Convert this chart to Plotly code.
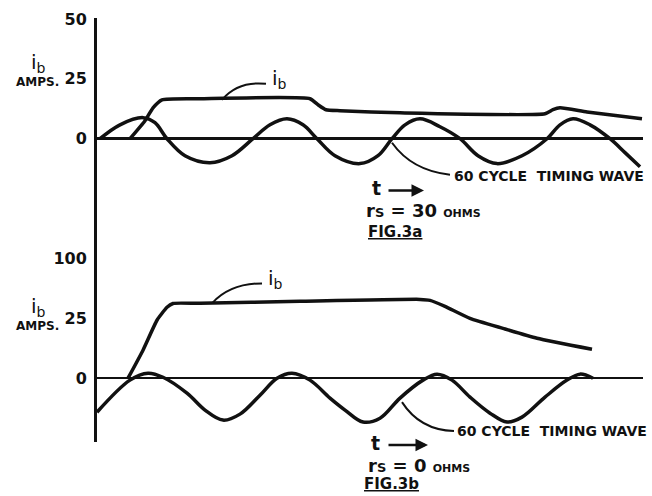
import plotly.graph_objects as go

W, H = 652, 496

# ---------------- data (time in arbitrary units, current in amps) -------------
# Fig 3a : r_s = 30 ohms
t_wave_a = [3, 23, 46, 58, 70, 88, 113, 135, 156, 173, 190, 206, 220, 238, 263, 281,
            295, 308, 323, 343, 363, 381, 400, 425, 450, 463, 476, 493, 513, 528, 543]
v_wave_a = [0, 5.8, 8.8, 6.7, 0, -7.1, -10.0, -7.1, 0, 5.8, 8.3, 5.8, 0, -7.1, -10.4, -7.1,
            0, 5.8, 8.3, 5.0, 0, -7.1, -10.4, -7.1, 0, 5.8, 8.3, 5.8, 0, -5.8, -11.7]
t_ib_a = [33, 48, 56, 65, 103, 213, 221, 229, 243, 303, 448, 456, 463, 490, 545]
v_ib_a = [0, 7.5, 12.9, 16.25, 16.7, 16.7, 14.2, 12.1, 11.7, 10.8, 10.4, 12.1, 12.9, 11.2, 8.3]

# Fig 3b : r_s = 0 ohms
t_wave_b = [0, 33, 51, 66, 90, 108, 126, 143, 163, 180, 195, 213, 233, 248, 266, 283,
            303, 326, 340, 355, 373, 393, 410, 425, 448, 470, 483, 496]
v_wave_b = [-14.2, -0.8, 2.1, 0.4, -6.25, -13.3, -17.5, -15.0, -7.1, 0, 2.1, -0.8, -8.3,
            -13.3, -18.3, -16.7, -8.3, -0.8, 1.7, -0.8, -7.9, -14.6, -18.3, -16.25, -7.9,
            -0.8, 1.7, 0]
t_ib_b = [31, 46, 60, 70, 76, 103, 203, 323, 333, 348, 373, 406, 440, 495]
v_ib_b = [0, 11.7, 24.2, 29.6, 31.2, 31.25, 32.1, 32.9, 32.5, 30.0, 25.0, 20.8, 16.7, 12.1]

tick_vals = [0, 25, 50]
tick_text_a = ["0", "25", "50"]
tick_text_b = ["0", "25", "100"]

# ---------------- layout helpers ----------------------------------------------
# positions below are measured on the reference picture; the capture maps the
# page with y_capture = 7 + 0.986 * y_page, so positions are converted back.
def px(x):
    return x / W

def py(y):
    yf = (y - 7) / 0.986
    return (H - yf) / H

X0, X1 = 97, 643
FONT = "DejaVu Sans"
INK = "#111111"

fig = go.Figure()
line_style = dict(color=INK, width=3.5, shape="spline", smoothing=1.0)
fig.add_trace(go.Scatter(x=t_wave_a, y=v_wave_a, mode="lines", line=line_style,
                         xaxis="x", yaxis="y", hoverinfo="skip"))
fig.add_trace(go.Scatter(x=t_ib_a, y=v_ib_a, mode="lines",
                         line=dict(color=INK, width=3.5, shape="spline", smoothing=0.5),
                         xaxis="x", yaxis="y", hoverinfo="skip"))
fig.add_trace(go.Scatter(x=t_wave_b, y=v_wave_b, mode="lines", line=line_style,
                         xaxis="x2", yaxis="y2", hoverinfo="skip"))
fig.add_trace(go.Scatter(x=t_ib_b, y=v_ib_b, mode="lines",
                         line=dict(color=INK, width=3.5, shape="spline", smoothing=0.5),
                         xaxis="x2", yaxis="y2", hoverinfo="skip"))

xdom = [px(X0), px(X1)]
xrange_ = [0, X1 - X0]
xax = dict(domain=xdom, range=xrange_, visible=False, fixedrange=True)
tickfont = dict(family=FONT, size=16, color=INK, weight="bold")
yax_common = dict(showline=True, linecolor=INK, linewidth=3, showgrid=False,
                  zeroline=True, zerolinecolor=INK, zerolinewidth=2.5,
                  ticks="", tickvals=tick_vals, tickfont=tickfont, fixedrange=True,
                  ticklabelstandoff=4)

fig.update_layout(
    width=W, height=H,
    margin=dict(l=0, r=0, t=0, b=0),
    paper_bgcolor="white", plot_bgcolor="white",
    showlegend=False,
    xaxis=dict(xax, anchor="y"),
    xaxis2=dict(xax, anchor="y2"),
    yaxis=dict(yax_common, domain=[py(248), py(17)], range=[(138 - 248) / 2.4, (138 - 17) / 2.4],
               ticktext=tick_text_a, anchor="x"),
    yaxis2=dict(yax_common, domain=[py(442), py(248)], range=[(378 - 442) / 2.4, (378 - 248) / 2.4],
                ticktext=tick_text_b, anchor="x2"),
)

ann = []
def text(x, y, s, size, xanchor="center", weight="bold"):
    ann.append(dict(x=px(x), y=py(y), xref="paper", yref="paper", text=s, showarrow=False,
                    xanchor=xanchor, yanchor="middle",
                    font=dict(family=FONT, size=size, color=INK, weight=weight)))

def arrow(x0, x1, y):
    ann.append(dict(x=px(x1), y=py(y), ax=-(x1 - x0), ay=0, xref="paper", yref="paper",
                    axref="pixel", ayref="pixel", text="", showarrow=True,
                    arrowhead=2, arrowsize=1, arrowwidth=2.5, arrowcolor=INK))

# y labels
for (yl, ya) in [(62, 81), (307, 326)]:
    text(38, yl, "i<sub>b</sub>", 20, weight="normal")
    text(37, ya, "AMPS.", 12)

RS = "r<span style='font-size:13px'>S</span>"
# Fig 3a labels
text(279, 78, "i<sub>b</sub>", 20, weight="normal")
text(452, 175, "60 CYCLE  TIMING WAVE", 14, xanchor="left")
text(376, 187, "t", 19)
arrow(387, 424, 190)
text(364, 210, RS + " = 30 <span style='font-size:11px'>OHMS</span>", 18, xanchor="left")
text(366, 231, "<u>FIG.3a</u>", 15, xanchor="left")

# Fig 3b labels
text(275, 279, "i<sub>b</sub>", 20, weight="normal")
text(455, 431, "60 CYCLE  TIMING WAVE", 14, xanchor="left")
text(375, 443, "t", 19)
arrow(387, 428, 445)
text(366, 465, RS + " = 0 <span style='font-size:11px'>OHMS</span>", 18, xanchor="left")
text(362, 484, "<u>FIG.3b</u>", 15, xanchor="left")

fig.update_layout(annotations=ann)

# curved leader lines (paper coordinates)
def leader(p0, c, p1):
    path = "M {} {} Q {} {} {} {}".format(px(p0[0]), py(p0[1]), px(c[0]), py(c[1]),
                                            px(p1[0]), py(p1[1]))
    return dict(type="path", path=path, xref="paper", yref="paper",
                line=dict(color=INK, width=2))

fig.update_layout(shapes=[
    leader((266, 83), (238, 80), (222, 99)),
    leader((392, 142), (412, 170), (450, 174)),
    leader((262, 283), (230, 283), (212, 303)),
    leader((402, 402), (420, 430), (454, 431)),
])

fig.write_html(
    "out.html",
    config={"displayModeBar": False, "staticPlot": True},
    post_script=(
        "document.documentElement.style.margin='0';"
        "document.body.style.margin='0';document.body.style.padding='0';"
        "document.body.style.overflow='hidden';"
        "var gd=document.getElementById('{plot_id}');"
        "gd.style.position='fixed';gd.style.top='0px';gd.style.left='0px';"
    ),
)
